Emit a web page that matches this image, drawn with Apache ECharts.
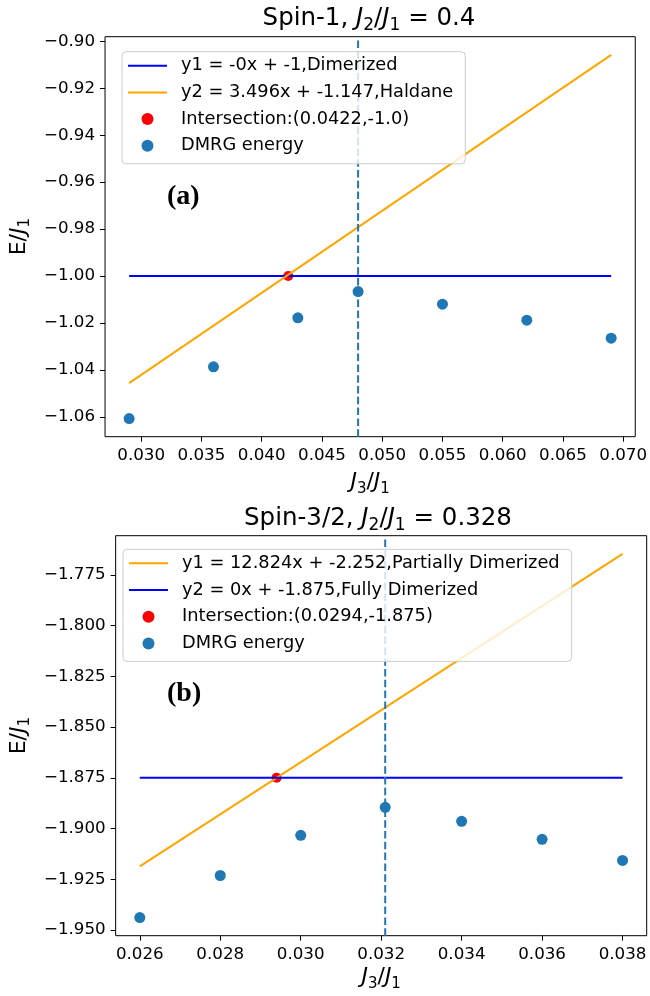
<!DOCTYPE html>
<html><head><meta charset="utf-8">
<script src="https://cdn.jsdelivr.net/npm/echarts@6/dist/echarts.min.js"></script>
<style>html,body{margin:0;padding:0;background:#fff}#c{width:650px;height:996px}</style>
</head><body><div id="c"></div>
<script>
// ---------- data: panel (a) Spin-1 ----------
const dmrgX_a = [0.029, 0.036, 0.043, 0.048, 0.055, 0.062, 0.069];
const dmrgE_a = [-1.0607, -1.0387, -1.0178, -1.0066, -1.0120, -1.0188, -1.0265];
const lineX_a = [0.029, 0.069];
const dimerE_a = [-1.0, -1.0];
const haldaneE_a = [-1.0456, -0.9058];
const cross_a = [0.0422, -1.0];
const vline_a = 0.048;
const xTicks_a = [0.030, 0.035, 0.040, 0.045, 0.050, 0.055, 0.060, 0.065, 0.070];
const yTicks_a = [-1.06, -1.04, -1.02, -1.00, -0.98, -0.96, -0.94, -0.92, -0.90];
const names_a = ['y1 = -0x + -1,Dimerized', 'y2 = 3.496x + -1.147,Haldane', 'Intersection:(0.0422,-1.0)', 'DMRG energy'];

// ---------- data: panel (b) Spin-3/2 ----------
const dmrgX_b = [0.026, 0.028, 0.030, 0.0321, 0.034, 0.036, 0.038];
const dmrgE_b = [-1.9438, -1.9231, -1.9033, -1.8895, -1.8964, -1.9053, -1.9157];
const lineX_b = [0.026, 0.038];
const partialE_b = [-1.9186, -1.7647];
const fullE_b = [-1.875, -1.875];
const cross_b = [0.0294, -1.875];
const vline_b = 0.0321;
const xTicks_b = [0.026, 0.028, 0.030, 0.032, 0.034, 0.036, 0.038];
const yTicks_b = [-1.950, -1.925, -1.900, -1.875, -1.850, -1.825, -1.800, -1.775];
const names_b = ['y1 = 12.824x + -2.252,Partially Dimerized', 'y2 = 0x + -1.875,Fully Dimerized', 'Intersection:(0.0294,-1.875)', 'DMRG energy'];

// matplotlib-like 5% autoscale margin
function autorange(vals) {
  const lo = Math.min.apply(null, vals), hi = Math.max.apply(null, vals);
  const m = (hi - lo) * 0.05;
  return [lo - m, hi + m];
}
const xr_a = autorange(dmrgX_a.concat(lineX_a));
const yr_a = autorange(dmrgE_a.concat(dimerE_a, haldaneE_a));
const xr_b = autorange(dmrgX_b.concat(lineX_b));
const yr_b = autorange(dmrgE_b.concat(partialE_b, fullE_b));

const FONT = 'DejaVu Sans';
const minus = s => s.replace('-', '\u2212');
const zip = (xs, ys) => xs.map((x, i) => [x, ys[i]]);

const mathRich = {
  r: { fontFamily: FONT, fontSize: 24.5, fontWeight: 'normal', color: '#000', lineHeight: 31 },
  i: { fontFamily: FONT, fontSize: 24.5, fontWeight: 'normal', fontStyle: 'italic', color: '#000', lineHeight: 31 },
  s: { fontFamily: FONT, fontSize: 17, fontWeight: 'normal', color: '#000', lineHeight: 17, verticalAlign: 'bottom' }
};
const nameRich = {
  r: { fontFamily: FONT, fontSize: 22, color: '#000', lineHeight: 28 },
  i: { fontFamily: FONT, fontSize: 22, fontStyle: 'italic', color: '#000', lineHeight: 28 },
  s: { fontFamily: FONT, fontSize: 15, color: '#000', lineHeight: 15, verticalAlign: 'bottom' }
};

function xAxisCfg(idx, r, ticks, dec, gap) {
  return {
    type: 'value', gridIndex: idx, min: r[0], max: r[1],
    name: '{i|J}{s|3}{r|/}{i|J}{s|1}', nameLocation: 'middle', nameGap: gap,
    nameTextStyle: { rich: nameRich },
    axisLine: { show: false },
    axisTick: { show: true, length: 5, customValues: ticks, lineStyle: { color: '#000', width: 1 } },
    axisLabel: { customValues: ticks, margin: 10, color: '#000', fontFamily: FONT, fontSize: 16.7,
      formatter: v => v.toFixed(dec) },
    splitLine: { show: false }
  };
}
function yAxisCfg(idx, r, ticks, dec, gap) {
  return {
    type: 'value', gridIndex: idx, min: r[0], max: r[1],
    name: '{r|E/}{i|J}{s|1}', nameLocation: 'middle', nameGap: gap, nameRotate: 90,
    nameTextStyle: { rich: nameRich },
    axisLine: { show: false },
    axisTick: { show: true, length: 5, customValues: ticks, lineStyle: { color: '#000', width: 1 } },
    axisLabel: { customValues: ticks, margin: 10, color: '#000', fontFamily: FONT, fontSize: 16.7,
      formatter: v => minus(v.toFixed(dec)) },
    splitLine: { show: false }
  };
}

function lineSeries(name, idx, xs, ys, color) {
  return { name, type: 'line', xAxisIndex: idx, yAxisIndex: idx, data: zip(xs, ys),
    symbol: 'none', lineStyle: { color, width: 2 }, itemStyle: { color }, z: 3, animation: false };
}
function scatterSeries(name, idx, data, color, size) {
  return { name, type: 'scatter', xAxisIndex: idx, yAxisIndex: idx, data,
    symbol: 'circle', symbolSize: size, itemStyle: { color, opacity: 1 }, z: 2, animation: false };
}
function vlineSeries(idx, x, yr) {
  return { name: 'vline' + idx, type: 'line', xAxisIndex: idx, yAxisIndex: idx,
    data: [[x, yr[0]], [x, yr[1]]], symbol: 'none', silent: true,
    lineStyle: { color: '#1f77b4', width: 2, type: [7.5, 3.3] }, z: 4, animation: false };
}
function legendCfg(left, top, names) {
  return {
    orient: 'vertical', left, top,
    data: names.map((n, i) => i < 2 ? { name: n, itemStyle: { opacity: 0 } } : { name: n }),
    itemWidth: 39, itemHeight: 12, itemGap: 6.7,
    padding: [4, 12, 8, 5],
    backgroundColor: 'rgba(255,255,255,0.8)', borderColor: '#cccccc', borderWidth: 1, borderRadius: 4,
    selectedMode: false, z: 10,
    textStyle: { fontFamily: FONT, fontSize: 17.8, color: '#000', lineHeight: 20, padding: [0, 0, 0, 9] }
  };
}

const option = {
  backgroundColor: '#fff',
  animation: false,
  title: [
    { text: '{r|Spin-1, }{i|J}{s|2}{r|/}{i|J}{s|1}{r| = 0.4}', left: 369, top: 3, textAlign: 'center', padding: 0,
      textStyle: { fontWeight: 'normal', rich: mathRich } },
    { text: '{r|Spin-3/2, }{i|J}{s|2}{r|/}{i|J}{s|1}{r| = 0.328}', left: 378, top: 503, textAlign: 'center', padding: 0,
      textStyle: { fontWeight: 'normal', rich: mathRich } }
  ],
  grid: [
    { left: 100.7, top: 36.7, width: 536.6, height: 400, show: true, borderColor: '#000', borderWidth: 1, backgroundColor: 'transparent' },
    { left: 110, top: 535.7, width: 536.7, height: 400, show: true, borderColor: '#000', borderWidth: 1, backgroundColor: 'transparent' }
  ],
  xAxis: [xAxisCfg(0, xr_a, xTicks_a, 3, 32), xAxisCfg(1, xr_b, xTicks_b, 3, 28)],
  yAxis: [yAxisCfg(0, yr_a, yTicks_a, 2, 68), yAxisCfg(1, yr_b, yTicks_b, 3, 78)],
  legend: [legendCfg(122, 51.7, names_a), legendCfg(123, 549.3, names_b)],
  graphic: [
    { type: 'text', left: 167, top: 183, style: { text: '(a)', font: 'bold 28px "Liberation Serif"', fill: '#000' } },
    { type: 'text', left: 167, top: 680, style: { text: '(b)', font: 'bold 28px "Liberation Serif"', fill: '#000' } }
  ],
  series: [
    lineSeries(names_a[0], 0, lineX_a, dimerE_a, '#0000ff'),
    lineSeries(names_a[1], 0, lineX_a, haldaneE_a, '#ffa500'),
    scatterSeries(names_a[2], 0, [cross_a], '#ff0000', 10),
    scatterSeries(names_a[3], 0, zip(dmrgX_a, dmrgE_a), '#1f77b4', 11),
    vlineSeries(0, vline_a, yr_a),
    lineSeries(names_b[0], 1, lineX_b, partialE_b, '#ffa500'),
    lineSeries(names_b[1], 1, lineX_b, fullE_b, '#0000ff'),
    scatterSeries(names_b[2], 1, [cross_b], '#ff0000', 10),
    scatterSeries(names_b[3], 1, zip(dmrgX_b, dmrgE_b), '#1f77b4', 11),
    vlineSeries(1, vline_b, yr_b)
  ]
};
const chart = echarts.init(document.getElementById('c'), null, { renderer: 'canvas' });
chart.setOption(option);
</script></body></html>
